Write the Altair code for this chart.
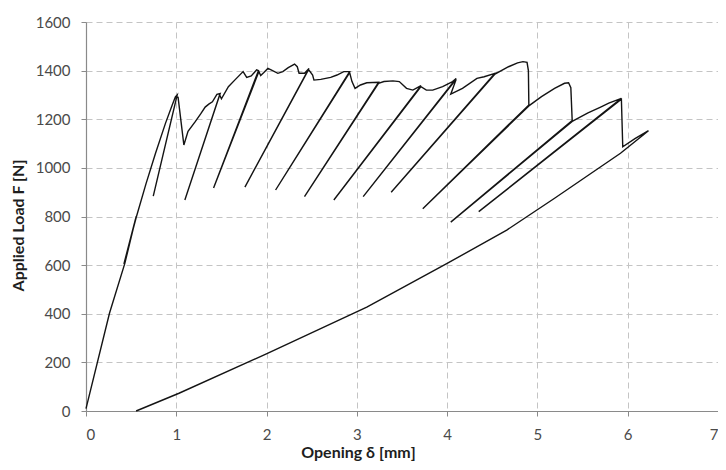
import altair as alt
import pandas as pd

# Sequence of the measured load path (opening in mm, applied load in N)
opening_mm = [
    0.00, 0.26, 0.43, 0.555, 0.42, 0.555, 0.665, 0.77, 0.88, 0.955, 0.99, 1.01,
    0.745, 1.005, 1.02, 1.084, 1.13, 1.21, 1.27, 1.32, 1.36, 1.40, 1.45, 1.486,
    1.095, 1.48, 1.50, 1.577, 1.65, 1.74, 1.78, 1.83, 1.89, 1.91,
    1.413, 1.915, 1.935, 1.97, 2.015, 2.05, 2.125, 2.18, 2.24, 2.31, 2.34, 2.36, 2.42, 2.47,
    1.76, 2.465, 2.51, 2.525, 2.60, 2.71, 2.78, 2.855, 2.92,
    2.10, 2.92, 2.946, 2.98, 3.04, 3.11, 3.24,
    2.42, 3.24, 3.30, 3.40, 3.47, 3.55, 3.62, 3.67, 3.71,
    2.745, 3.71, 3.77, 3.84, 3.95, 4.06, 4.10,
    3.07, 4.10, 4.04, 4.17, 4.33, 4.41, 4.53,
    3.38, 4.53, 4.68, 4.78, 4.84, 4.885, 4.90, 4.905,
    3.73, 4.905, 5.045, 5.19, 5.30, 5.345, 5.37, 5.385,
    4.04, 5.385, 5.56, 5.70, 5.79, 5.93,
    4.35, 5.93, 5.945, 6.08, 6.23,
    5.92, 5.19, 4.66, 4.00, 3.11, 2.01, 1.03, 0.555,
]
load_n = [
    10, 402, 607, 799, 605, 795, 935, 1060, 1183, 1259, 1292, 1300,
    884, 1292, 1290, 1094, 1150, 1190, 1222, 1250, 1262, 1272, 1302, 1306,
    868, 1300, 1284, 1334, 1362, 1396, 1372, 1378, 1403, 1400,
    917, 1396, 1380, 1392, 1409, 1403, 1389, 1396, 1412, 1427, 1416, 1389, 1389, 1409,
    921, 1404, 1382, 1361, 1364, 1372, 1382, 1396, 1396,
    909, 1392, 1355, 1327, 1341, 1350, 1352,
    882, 1348, 1355, 1358, 1355, 1327, 1320, 1330, 1338,
    868, 1334, 1320, 1320, 1334, 1355, 1368,
    882, 1364, 1303, 1327, 1368, 1375, 1389,
    900, 1386, 1416, 1432, 1437, 1434, 1400, 1259,
    832, 1255, 1293, 1327, 1348, 1350, 1330, 1195,
    777, 1191, 1226, 1250, 1266, 1286,
    820, 1282, 1087, 1120, 1153,
    1060, 875, 744, 607, 427, 237, 73, 0,
]

x_ticks = [0, 1, 2, 3, 4, 5, 6, 7]
y_ticks = [0, 200, 400, 600, 800, 1000, 1200, 1400, 1600]

df = pd.DataFrame({
    "step": list(range(len(opening_mm))),
    "opening": opening_mm,
    "load": load_n,
})

FONT = "Lato"

chart = alt.Chart(df).mark_line(color="#141414", strokeWidth=1.4).encode(
    x=alt.X(
        "opening:Q",
        scale=alt.Scale(domain=[0, 7], nice=False, zero=False),
        axis=alt.Axis(
            values=x_ticks, title="Opening δ [mm]", format="d",
            titleX=272, titleY=41, titleBaseline="middle", titleAlign="center",
            labelPadding=11,
        ),
    ),
    y=alt.Y(
        "load:Q",
        scale=alt.Scale(domain=[0, 1600], nice=False),
        axis=alt.Axis(
            values=y_ticks, title="Applied Load F [N]", format="d",
            titleX=-68, titleY=203, titleBaseline="middle", titleAlign="center",
            titleAngle=270, labelPadding=11,
        ),
    ),
    order=alt.Order("step:Q"),
).properties(
    width=632,
    height=389,
    autosize=alt.AutoSizeParams(type="none"),
    padding={"left": 78, "top": 14, "right": 0, "bottom": 51},
).configure_view(
    stroke=None,
).configure_axis(
    grid=True,
    gridColor="#c4c4c4",
    gridDash=[6, 4],
    gridWidth=1,
    domainColor="#8a8a8a",
    domainWidth=1.2,
    tickColor="#8a8a8a",
    tickSize=5,
    labelFont=FONT,
    labelFontSize=15,
    labelColor="#4a4a4a",
    titleFont=FONT,
    titleFontSize=16,
    titleFontWeight="bold",
    titleColor="#1e1e1e",
)

chart.save("out.html", embed_options={"renderer": "svg", "actions": False})
